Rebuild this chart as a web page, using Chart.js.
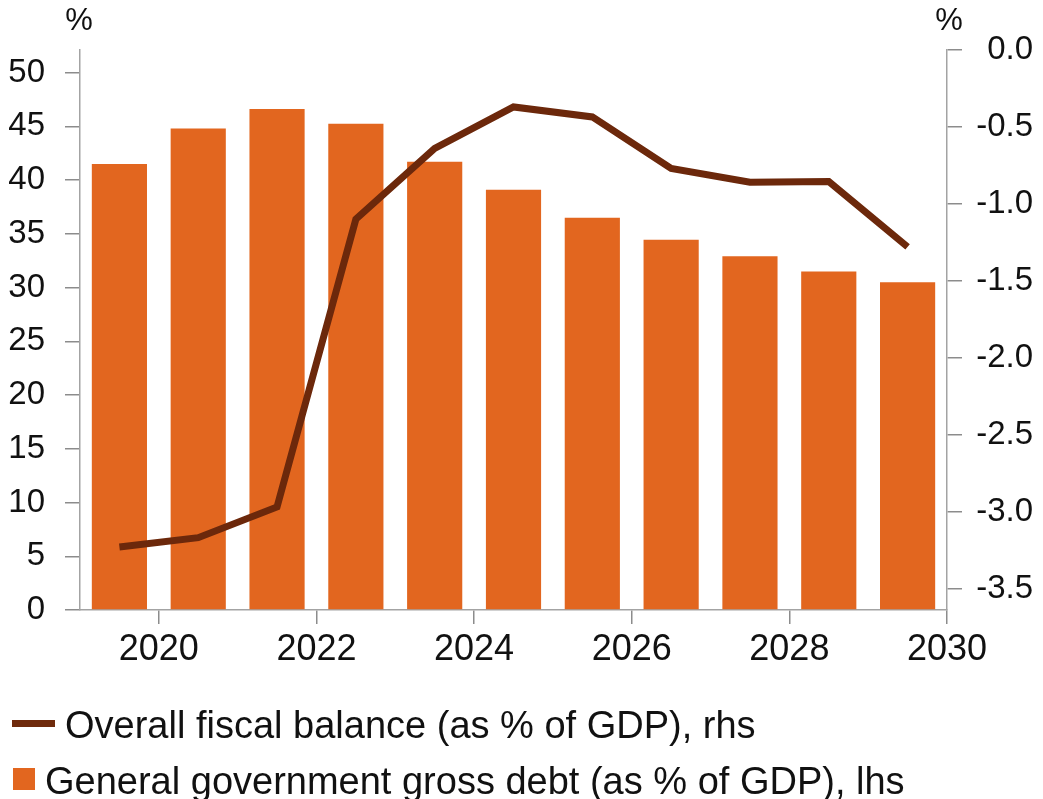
<!DOCTYPE html>
<html lang="en">
<head>
    <meta charset="UTF-8">
    <title>Fiscal balance and gross debt</title>
    <script src="https://cdn.jsdelivr.net/npm/chart.js"></script>
    <style>
        body { margin: 0; background: #fff; }
        #wrap { position: relative; width: 1043px; height: 799px; font-family: "Liberation Sans", Arial, sans-serif; }
        .leg-text { position: absolute; font-size: 38px; line-height: 38px; color: #111; white-space: nowrap; }
        .leg-mark { position: absolute; }
    </style>
</head>
<body>
<div id="wrap">
    <canvas id="myChart" width="1043" height="799"></canvas>
    <span class="leg-mark" style="left:12px; top:720px; width:43px; height:7px; background:#6f2a0c;"></span>
    <span class="leg-text" style="left:65px; top:706px;">Overall fiscal balance (as % of GDP), rhs</span>
    <span class="leg-mark" style="left:13px; top:768px; width:22px; height:22px; background:#e2661f;"></span>
    <span class="leg-text" style="left:45px; top:762px;">General government gross debt (as % of GDP), lhs</span>
</div>
<script>
    // data
    const years = ['2019', '2020', '2021', '2022', '2023', '2024', '2025', '2026', '2027', '2028', '2029'];
    const debt = [41.5, 44.8, 46.6, 45.25, 41.7, 39.1, 36.5, 34.45, 32.9, 31.5, 30.5];
    const balance = [-3.23, -3.17, -2.97, -1.10, -0.64, -0.37, -0.435, -0.77, -0.86, -0.855, -1.28];
    const xTickYears = [2020, 2022, 2024, 2026, 2028, 2030];
    const leftTicks = [0, 5, 10, 15, 20, 25, 30, 35, 40, 45, 50];
    const rightTicks = [0, -0.5, -1, -1.5, -2, -2.5, -3, -3.5];

    const axisGray = '#a3a3a3';
    const tickFont = { family: '"Liberation Sans", Arial, sans-serif', size: 33 };

    // the two "%" unit labels above the axes
    const pctLabels = {
        id: 'pctLabels',
        afterDraw(chart) {
            const { ctx, chartArea } = chart;
            ctx.save();
            ctx.font = '31px "Liberation Sans", Arial, sans-serif';
            ctx.fillStyle = '#111';
            ctx.textAlign = 'center';
            ctx.textBaseline = 'middle';
            ctx.fillText('%', chartArea.left - 1, 21);
            ctx.fillText('%', chartArea.right + 2, 21);
            ctx.restore();
        }
    };

    const ctx = document.getElementById('myChart').getContext('2d');
    new Chart(ctx, {
        data: {
            labels: years,
            datasets: [{
                type: 'line',
                label: 'Overall fiscal balance (as % of GDP), rhs',
                data: balance,
                yAxisID: 'y1',
                borderColor: '#6c280b',
                borderWidth: 7,
                pointRadius: 0,
                tension: 0,
                order: 0
            }, {
                type: 'bar',
                label: 'General government gross debt (as % of GDP), lhs',
                data: debt,
                yAxisID: 'y',
                backgroundColor: '#e2661f',
                categoryPercentage: 1,
                barPercentage: 0.7,
                order: 1
            }]
        },
        options: {
            responsive: false,
            animation: false,
            layout: { padding: { top: 50, right: 10, bottom: 109, left: 0 } },
            plugins: { legend: { display: false }, tooltip: { enabled: false } },
            scales: {
                x: { display: false, offset: true },
                x2: {
                    type: 'linear',
                    position: 'bottom',
                    min: 2019,
                    max: 2030,
                    afterBuildTicks: s => { s.ticks = xTickYears.map(v => ({ value: v })); },
                    afterFit: s => { s.height = 80; },
                    grid: { drawOnChartArea: false, tickLength: 14, color: '#8c8c8c', lineWidth: 1.5 },
                    border: { color: axisGray, width: 1.5 },
                    ticks: { color: '#111', font: { ...tickFont, size: 36 }, padding: 4, maxRotation: 0, callback: v => String(v) }
                },
                y: {
                    position: 'left',
                    min: 0,
                    max: 52.1,
                    afterBuildTicks: s => { s.ticks = leftTicks.map(v => ({ value: v })); },
                    afterFit: s => { s.width = 80; },
                    grid: { drawOnChartArea: false, tickLength: 15, color: '#8c8c8c', lineWidth: 1.5 },
                    border: { color: axisGray, width: 1.5 },
                    ticks: { color: '#111', font: tickFont, padding: 20, callback: v => String(v) }
                },
                y1: {
                    position: 'right',
                    min: -3.64,
                    max: 0,
                    afterBuildTicks: s => { s.ticks = rightTicks.map(v => ({ value: v })); },
                    afterFit: s => { s.width = 86; },
                    grid: { drawOnChartArea: false, tickLength: 15, color: '#8c8c8c', lineWidth: 1.5 },
                    border: { color: axisGray, width: 1.5 },
                    ticks: { color: '#111', font: tickFont, padding: 14, crossAlign: 'far', callback: v => v.toFixed(1) }
                }
            }
        },
        plugins: [pctLabels]
    });
</script>
</body>
</html>
